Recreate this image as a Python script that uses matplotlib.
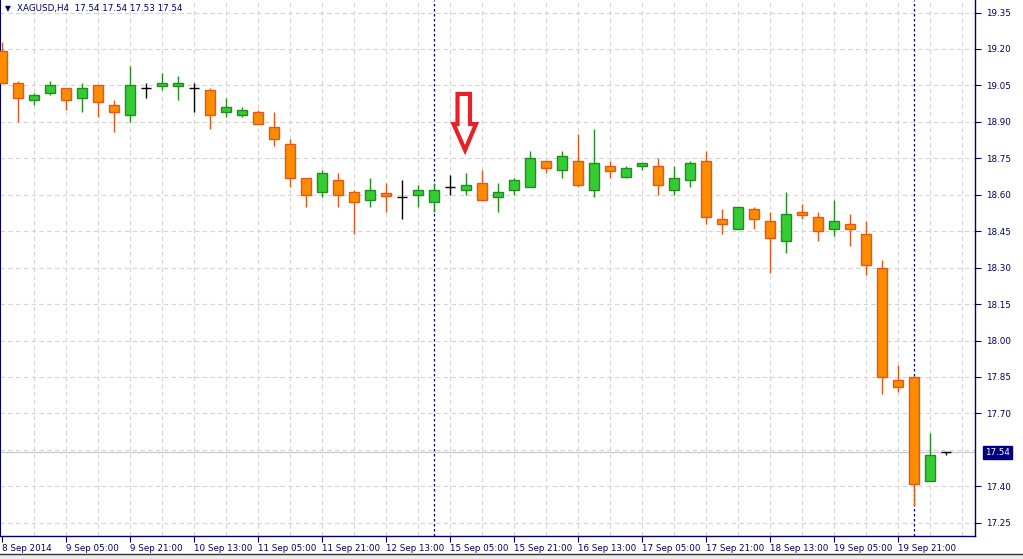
import matplotlib
matplotlib.use("Agg")
import matplotlib.pyplot as plt
from matplotlib.patches import Polygon, Rectangle
from matplotlib.transforms import blended_transform_factory
import numpy as np

# ---------------- data ----------------
opens = [19.19, 19.06, 18.99, 19.02, 19.04, 19.00, 19.05, 18.97, 18.93, 19.04,
         19.046, 19.046, 19.04, 19.03, 18.94, 18.93, 18.94, 18.88, 18.81, 18.67,
         18.61, 18.66, 18.61, 18.58, 18.606, 18.59, 18.60, 18.57, 18.63, 18.62,
         18.65, 18.59, 18.62, 18.63, 18.74, 18.70, 18.74, 18.62, 18.717, 18.674,
         18.717, 18.72, 18.62, 18.66, 18.74, 18.50, 18.46, 18.54, 18.49, 18.41,
         18.528, 18.51, 18.46, 18.478, 18.44, 18.30, 17.836, 17.85, 17.42, 17.54]
highs = [19.23, 19.07, 19.02, 19.07, 19.04, 19.06, 19.05, 18.99, 19.13, 19.06,
         19.10, 19.09, 19.06, 19.04, 19.00, 18.96, 18.95, 18.94, 18.83, 18.67,
         18.70, 18.69, 18.62, 18.67, 18.65, 18.66, 18.64, 18.65, 18.68, 18.69,
         18.70, 18.65, 18.67, 18.78, 18.74, 18.78, 18.85, 18.87, 18.74, 18.72,
         18.73, 18.75, 18.72, 18.74, 18.78, 18.54, 18.55, 18.55, 18.53, 18.61,
         18.56, 18.53, 18.58, 18.52, 18.49, 18.33, 17.90, 17.85, 17.62, 17.54]
lows = [19.06, 18.90, 18.97, 19.01, 18.95, 18.94, 18.92, 18.86, 18.90, 19.00,
        19.03, 18.99, 18.94, 18.87, 18.92, 18.92, 18.89, 18.80, 18.63, 18.55,
        18.59, 18.55, 18.44, 18.55, 18.53, 18.50, 18.55, 18.53, 18.60, 18.60,
        18.58, 18.53, 18.60, 18.63, 18.69, 18.67, 18.63, 18.59, 18.67, 18.67,
        18.70, 18.60, 18.60, 18.63, 18.48, 18.44, 18.46, 18.46, 18.28, 18.36,
        18.50, 18.41, 18.43, 18.39, 18.27, 17.78, 17.79, 17.32, 17.42, 17.53]
closes = [19.06, 19.00, 19.01, 19.05, 18.99, 19.04, 18.98, 18.94, 19.05, 19.04,
          19.059, 19.059, 19.04, 18.93, 18.96, 18.95, 18.89, 18.83, 18.67, 18.60,
          18.69, 18.60, 18.57, 18.62, 18.596, 18.59, 18.62, 18.62, 18.63, 18.64,
          18.58, 18.61, 18.66, 18.75, 18.71, 18.76, 18.64, 18.73, 18.696, 18.709,
          18.729, 18.64, 18.67, 18.73, 18.51, 18.48, 18.55, 18.50, 18.42, 18.52,
          18.515, 18.45, 18.49, 18.458, 18.31, 17.85, 17.808, 17.41, 17.53, 17.54]

x_labels = ["8 Sep 2014", "9 Sep 05:00", "9 Sep 21:00", "10 Sep 13:00",
            "11 Sep 05:00", "11 Sep 21:00", "12 Sep 13:00", "15 Sep 05:00",
            "15 Sep 21:00", "16 Sep 13:00", "17 Sep 05:00", "17 Sep 21:00",
            "18 Sep 13:00", "19 Sep 05:00", "19 Sep 21:00"]
label_step = 4
separators = [27, 57]
y_ticks = [19.35, 19.20, 19.05, 18.90, 18.75, 18.60, 18.45, 18.30, 18.15,
           18.00, 17.85, 17.70, 17.40, 17.25]
y_grid = [19.35, 19.20, 19.05, 18.90, 18.75, 18.60, 18.45, 18.30, 18.15,
          18.00, 17.85, 17.70, 17.55, 17.40, 17.25]
last_price = 17.54
title = "XAGUSD,H4  17.54 17.54 17.53 17.54"

# ---------------- figure ----------------
W, H = 1023, 559
fig = plt.figure(figsize=(W / 100, H / 100), dpi=100)
fig.patch.set_facecolor("white")
ax_right_px, ax_bottom_px = 975, 536
ax = fig.add_axes([0, (H - ax_bottom_px) / H, ax_right_px / W, ax_bottom_px / H])

navy = "#000066"
n = len(opens)
x = np.arange(n)
body_w = 0.64

for xi, o, h, l, c in zip(x, opens, highs, lows, closes):
    if abs(c - o) < 1e-9:
        ax.vlines(xi, l, h, color="black", lw=1.0, zorder=3)
        ax.hlines(o, xi - body_w / 2, xi + body_w / 2, color="black", lw=1.0, zorder=3)
        continue
    if c > o:
        fill, edge = "#33cc33", "#228b22"
    else:
        fill, edge = "#ff8c00", "#e0581a"
    ax.vlines(xi, l, h, color=edge, lw=1.0, zorder=2)
    ax.bar(xi, abs(c - o), bottom=min(o, c), width=body_w, color=fill,
           edgecolor=edge, linewidth=1.0, zorder=3)

ax.set_xlim(-0.125, (ax_right_px - 2) / 16)
ax.set_ylim(19.35 - (ax_bottom_px - 12.5) / 243, 19.35 + 12.5 / 243)

# grid
for g in y_grid:
    ax.axhline(g, color="#d4d4d4", lw=0.8, ls=(0, (4, 3)), zorder=0)
for gx in range(2, n + 2, 2):
    ax.axvline(gx, color="#d4d4d4", lw=0.8, ls=(0, (4, 3)), zorder=0)

# separators
for s in separators:
    ax.axvline(s, color=navy, lw=0.9, ls=(0, (2, 2)), zorder=1)

# last price line
ax.axhline(last_price, color="#c8c8c8", lw=0.9, zorder=1)

# spines
ax.spines["top"].set_visible(False)
ax.spines["left"].set_color(navy)
ax.spines["left"].set_linewidth(1.5)
ax.spines["right"].set_color(navy)
ax.spines["bottom"].set_color(navy)
ax.spines["right"].set_linewidth(1.0)
ax.spines["bottom"].set_linewidth(1.0)

# ticks
ax.yaxis.tick_right()
ax.set_yticks(y_ticks)
ax.set_yticklabels([f"{v:.2f}" for v in y_ticks])
ax.tick_params(axis="y", direction="out", length=4, width=0.8, color=navy,
               labelcolor=navy, labelsize=6.3, pad=4)
xt = list(range(0, n, label_step))[:len(x_labels)]
ax.set_xticks(xt)
ax.set_xticklabels(x_labels, ha="left")
ax.tick_params(axis="x", direction="out", length=4, width=0.8, color=navy,
               labelcolor=navy, labelsize=6.3, pad=2)

# last price label box
tr = blended_transform_factory(ax.transAxes, ax.transData)
ax.text(1.0 + 10 / ax_right_px, last_price, f"{last_price:.2f}", transform=tr,
        ha="left", va="center", fontsize=6.3, color="white", clip_on=False,
        bbox=dict(boxstyle="square,pad=0.25", fc="#000080", ec="#000080"))

# title
fig.text(5 / W, 1 - 9 / H, "\u25bc", fontsize=5.5, color=navy, va="center", ha="left")
fig.text(17 / W, 1 - 9 / H, title, fontsize=6.3, color=navy, va="center", ha="left")

# red arrow annotation
arrow = [(28.47, 19.015), (29.25, 19.015), (29.25, 18.891), (29.625, 18.891),
         (28.94, 18.784), (28.22, 18.891), (28.47, 18.891)]
ax.add_patch(Polygon(arrow, closed=True, fill=False, edgecolor="#e8202a",
                     lw=3.0, joinstyle="miter", zorder=5))

# bottom window strip
fig.patches.append(Rectangle((0, 0), 1, 5 / H, transform=fig.transFigure,
                             facecolor="#ececec", edgecolor="none"))
fig.lines.append(plt.Line2D([0, 1], [5 / H, 5 / H], transform=fig.transFigure,
                            color="#333333", lw=1.0))

fig.savefig("out.png", dpi=100)
